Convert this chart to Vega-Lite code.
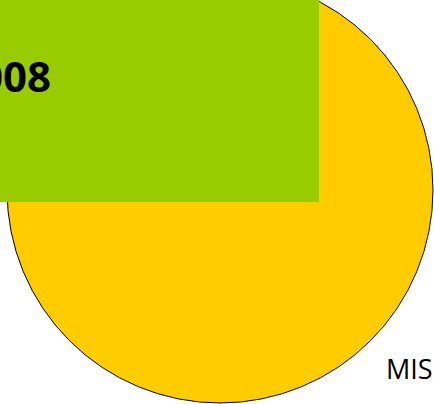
{
  "$schema": "https://vega.github.io/schema/vega-lite/v6.json",
  "width": 434,
  "height": 404,
  "padding": 0,
  "autosize": {"type": "none"},
  "background": "white",
  "config": {"view": {"stroke": null}},
  "datasets": {
    "pie": [{"category": "MISC", "value": 100, "cx": 220, "cy": 190}],
    "box": [{"title": "2008", "x0": -20, "x1": 319, "y0": -20, "y1": 202, "tx": 51, "ty": 92}],
    "labels": [{"label": "MISC", "lx": 386, "ly": 379}]
  },
  "layer": [
    {
      "data": {"name": "pie"},
      "mark": {"type": "point", "shape": "circle", "filled": true, "fill": "#FFCC00", "stroke": "black", "strokeWidth": 1, "opacity": 1, "size": 181476},
      "encoding": {
        "x": {"field": "cx", "type": "quantitative", "scale": {"domain": [0, 434], "nice": false, "zero": false}, "axis": null},
        "y": {"field": "cy", "type": "quantitative", "scale": {"domain": [0, 404], "nice": false, "zero": false, "reverse": true}, "axis": null}
      }
    },
    {
      "data": {"name": "box"},
      "mark": {"type": "rect", "fill": "#99CC00", "clip": true},
      "encoding": {
        "x": {"field": "x0", "type": "quantitative", "axis": null},
        "x2": {"field": "x1"},
        "y": {"field": "y0", "type": "quantitative", "axis": null},
        "y2": {"field": "y1"}
      }
    },
    {
      "data": {"name": "box"},
      "mark": {"type": "text", "align": "right", "baseline": "alphabetic", "font": "Open Sans", "fontWeight": "bold", "fontSize": 42, "color": "black"},
      "encoding": {
        "x": {"field": "tx", "type": "quantitative", "axis": null},
        "y": {"field": "ty", "type": "quantitative", "axis": null},
        "text": {"field": "title"}
      }
    },
    {
      "data": {"name": "labels"},
      "mark": {"type": "text", "align": "left", "baseline": "alphabetic", "font": "Open Sans", "fontSize": 27, "color": "black"},
      "encoding": {
        "x": {"field": "lx", "type": "quantitative", "axis": null},
        "y": {"field": "ly", "type": "quantitative", "axis": null},
        "text": {"field": "label"}
      }
    }
  ]
}
